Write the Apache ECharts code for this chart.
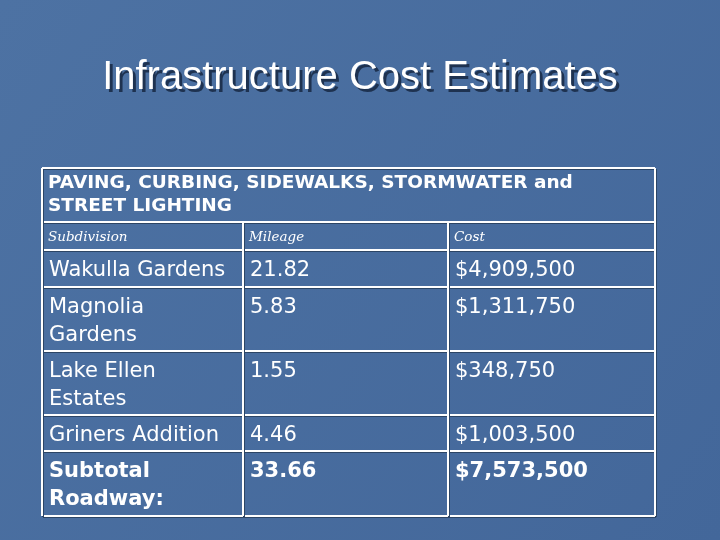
<!DOCTYPE html>
<html><head><meta charset="utf-8">
<script src="https://cdn.jsdelivr.net/npm/echarts@6/dist/echarts.min.js"></script>
<style>html,body{margin:0;padding:0;}#c{width:720px;height:540px;}</style>
</head><body><div id="c"></div>
<script>
var title = 'Infrastructure Cost Estimates';
var heading = ['PAVING, CURBING, SIDEWALKS, STORMWATER and', 'STREET LIGHTING'];
var columns = ['Subdivision', 'Mileage', 'Cost'];
var subdivisions = [['Wakulla Gardens'], ['Magnolia', 'Gardens'], ['Lake Ellen', 'Estates'], ['Griners Addition'], ['Subtotal', 'Roadway:']];
var mileage = ['21.82', '5.83', '1.55', '4.46', '33.66'];
var cost = ['$4,909,500', '$1,311,750', '$348,750', '$1,003,500', '$7,573,500'];

var colX = [42, 243, 448, 655];
var rowY = [168, 222, 250, 287, 351, 415, 451, 516];
var g = [];
var line = function (x1, y1, x2, y2) {
    g.push({ type: 'line', shape: { x1: x1 + 1, y1: y1 + 1, x2: x2 + 1, y2: y2 + 1 }, style: { stroke: '#2c4565', lineWidth: 2 } });
    g.push({ type: 'line', shape: { x1: x1, y1: y1, x2: x2, y2: y2 }, style: { stroke: '#ffffff', lineWidth: 2 } });
};
for (var i = 0; i < rowY.length; i++) line(colX[0], rowY[i], colX[3], rowY[i]);
line(colX[0], rowY[0], colX[0], rowY[7]);
line(colX[3], rowY[0], colX[3], rowY[7]);
line(colX[1], rowY[1], colX[1], rowY[7]);
line(colX[2], rowY[1], colX[2], rowY[7]);

var txt = function (x, y, s, font) {
    g.push({ type: 'text', x: x, y: y, style: { text: s, fill: '#ffffff', font: font, textVerticalAlign: 'top' } });
};
var titleFont = '40px "Liberation Sans Narrow", "Liberation Sans", sans-serif';
g.push({ type: 'text', x: 363, y: 61, style: { text: title, fill: '#1e3250', font: titleFont, textAlign: 'center', textVerticalAlign: 'top' } });
g.push({ type: 'text', x: 360, y: 58, style: { text: title, fill: '#ffffff', font: titleFont, textAlign: 'center', textVerticalAlign: 'top' } });
heading.forEach(function (h, k) { txt(48, 174 + k * 23, h, 'bold 18.5px "DejaVu Sans", sans-serif'); });
columns.forEach(function (c, k) { txt(colX[k] + 6, 230, c, 'italic 13.5px "DejaVu Serif", serif'); });
for (var r = 0; r < subdivisions.length; r++) {
    var bold = r === subdivisions.length - 1 ? 'bold ' : '';
    var font = bold + '21px "DejaVu Sans", sans-serif';
    var y0 = rowY[r + 2] + 10;
    subdivisions[r].forEach(function (s, k) { txt(colX[0] + 7, y0 + k * 28, s, font); });
    txt(colX[1] + 7, y0, mileage[r], font);
    txt(colX[2] + 7, y0, cost[r], font);
}

var chart = echarts.init(document.getElementById('c'));
chart.setOption({
    backgroundColor: {
        type: 'linear', x: 0, y: 0, x2: 1, y2: 1,
        colorStops: [{ offset: 0, color: '#4d72a3' }, { offset: 1, color: '#43679a' }]
    },
    graphic: g
});
</script></body></html>
